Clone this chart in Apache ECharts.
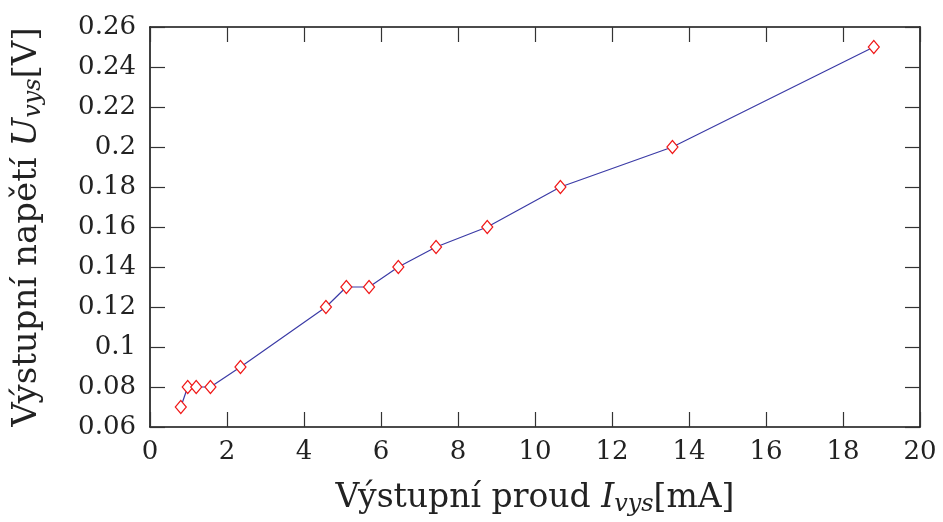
<!DOCTYPE html>
<html>
<head>
<meta charset="utf-8">
<script src="https://cdn.jsdelivr.net/npm/echarts@6/dist/echarts.min.js"></script>
<style>
  html, body { margin: 0; padding: 0; background: #fff; }
  #chart { width: 943px; height: 522px; }
</style>
</head>
<body>
<div id="chart"></div>
<script>
// measured points: output current [mA] vs output voltage [V]
const currentMA = [0.8, 0.98, 1.2, 1.57, 2.35, 4.57, 5.1, 5.69, 6.45, 7.43, 8.76, 10.66, 13.57, 18.8];
const voltageV = [0.07, 0.08, 0.08, 0.08, 0.09, 0.12, 0.13, 0.13, 0.14, 0.15, 0.16, 0.18, 0.20, 0.25];

const xMin = 0, xMax = 20, xStep = 2;
const yMin = 0.06, yMax = 0.26, yStep = 0.02;

const serif = '"DejaVu Serif", "Liberation Serif", serif';

const points = currentMA.map((x, i) => [x, voltageV[i]]);

function yLabel(v){
  return String(parseFloat(v.toFixed(2)));
}

const tickStyle = { show: true, inside: true, length: 15, lineStyle: { color: '#333', width: 1.2 } };
const lineStyle = { show: true, onZero: false, lineStyle: { color: '#111', width: 1.6 } };
function nameRich(size){
  return {
    i: { fontFamily: serif, fontSize: size, fontStyle: 'italic', color: '#222' },
    s: { fontFamily: serif, fontSize: Math.round(size * 0.72), fontStyle: 'italic', color: '#222', verticalAlign: 'bottom', padding: [13, 0, 0, 0] }
  };
}

const chart = echarts.init(document.getElementById('chart'));
const option = {
  animation: false,
  backgroundColor: '#fff',
  grid: { left: 150, right: 23, top: 27, bottom: 94, containLabel: false },
  xAxis: [
    {
      type: 'value', min: xMin, max: xMax, interval: xStep, position: 'bottom',
      axisLine: lineStyle, axisTick: tickStyle, splitLine: { show: false },
      axisLabel: { fontFamily: serif, fontSize: 26, color: '#222', margin: 12 },
      name: 'Výstupní proud {i|I}{s|vys}[mA]', nameLocation: 'middle', nameGap: 53,
      nameTextStyle: { fontFamily: serif, fontSize: 33, color: '#222', rich: nameRich(33) }
    },
    {
      type: 'value', min: xMin, max: xMax, interval: xStep, position: 'top',
      axisLine: lineStyle, axisTick: tickStyle, splitLine: { show: false },
      axisLabel: { show: false }
    }
  ],
  yAxis: [
    {
      type: 'value', min: yMin, max: yMax, interval: yStep, position: 'left',
      axisLine: lineStyle, axisTick: tickStyle, splitLine: { show: false },
      axisLabel: { fontFamily: serif, fontSize: 26, color: '#222', margin: 14, formatter: yLabel },
      name: 'Výstupní napětí {i|U}{s|vys}[V]', nameLocation: 'middle', nameGap: 104,
      nameTextStyle: { fontFamily: serif, fontSize: 34, color: '#222', rich: nameRich(34) }
    },
    {
      type: 'value', min: yMin, max: yMax, interval: yStep, position: 'right',
      axisLine: lineStyle, axisTick: tickStyle, splitLine: { show: false },
      axisLabel: { show: false }
    }
  ],
  series: [
    {
      type: 'line',
      data: points,
      xAxisIndex: 0,
      yAxisIndex: 0,
      symbol: 'diamond',
      symbolSize: [11, 13],
      showAllSymbol: true,
      lineStyle: { color: '#3b3ba6', width: 1.2 },
      itemStyle: { color: '#fff', borderColor: '#f01818', borderWidth: 1.2 }
    }
  ]
};
chart.setOption(option);
</script>
</body>
</html>
